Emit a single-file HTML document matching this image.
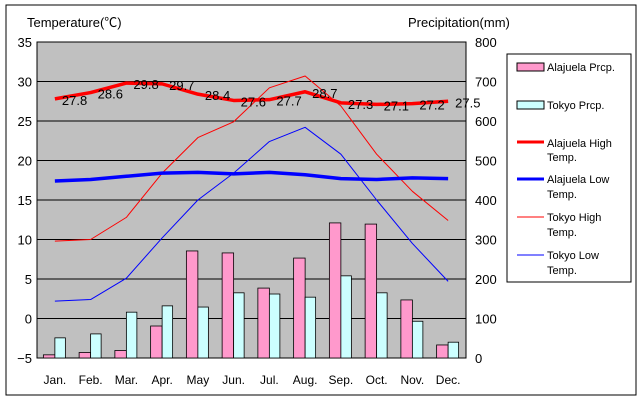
<!DOCTYPE html>
<html><head><meta charset="utf-8"><style>
body{margin:0;background:#fff;}
svg text{font-family:"Liberation Sans","Noto Sans CJK JP",sans-serif;}
</style></head><body>
<svg id="chart" width="640" height="400" xmlns="http://www.w3.org/2000/svg">
<rect x="6" y="5" width="630" height="390" fill="#fff" stroke="#000"/>
<rect x="37" y="42" width="429" height="316" fill="#c0c0c0" stroke="#000"/>
<g id="grid"></g><g id="bars"></g><g id="lines"></g><g id="labels"></g><g id="axes"></g>
<text x="27" y="27" font-size="13">Temperature(℃)</text>
<text x="408" y="27" font-size="13">Precipitation(mm)</text>
<g>
<rect x="507" y="54" width="124" height="228" fill="#fff" stroke="#000"/>
<rect x="517" y="63" width="27" height="8" fill="#ff99cc" stroke="#000"/>
<text x="547" y="71" font-size="11">Alajuela Prcp.</text>
<rect x="517" y="101" width="27" height="8" fill="#ccffff" stroke="#000"/>
<text x="547" y="109" font-size="11">Tokyo Prcp.</text>
<line x1="517" y1="142" x2="544" y2="142" stroke="#ff0000" stroke-width="3"/>
<text x="547" y="147" font-size="11"><tspan x="547">Alajuela High</tspan><tspan x="547" dy="14">Temp.</tspan></text>
<line x1="517" y1="179" x2="544" y2="179" stroke="#0000ff" stroke-width="3"/>
<text x="547" y="183" font-size="11"><tspan x="547">Alajuela Low</tspan><tspan x="547" dy="15">Temp.</tspan></text>
<line x1="517" y1="217" x2="544" y2="217" stroke="#ff0000" stroke-width="1"/>
<text x="547" y="221" font-size="11"><tspan x="547">Tokyo High</tspan><tspan x="547" dy="15">Temp.</tspan></text>
<line x1="517" y1="255" x2="544" y2="255" stroke="#0000ff" stroke-width="1"/>
<text x="547" y="259" font-size="11"><tspan x="547">Tokyo Low</tspan><tspan x="547" dy="15">Temp.</tspan></text>
</g>
</svg>
<script>
const months=["Jan.","Feb.","Mar.","Apr.","May","Jun.","Jul.","Aug.","Sep.","Oct.","Nov.","Dec."];
const alajuelaHigh=[27.8,28.6,29.8,29.7,28.4,27.6,27.7,28.7,27.3,27.1,27.2,27.5];
const alajuelaLow=[17.4,17.6,18.0,18.4,18.5,18.3,18.5,18.2,17.7,17.6,17.8,17.7];
const tokyoHigh=[9.8,10.0,12.8,18.4,22.9,24.9,29.2,30.7,26.9,20.8,16.1,12.4];
const tokyoLow=[2.2,2.4,5.1,10.2,15.0,18.4,22.4,24.2,20.8,15.0,9.5,4.7];
const alajuelaPrcp=[8,14,19,81,271,266,177,253,342,339,147,33];
const tokyoPrcp=[51,61,116,132,129,165,162,154,208,165,93,40];
const tempTicks=[-5,0,5,10,15,20,25,30,35];
const prcpTicks=[0,100,200,300,400,500,600,700,800];

const NS="http://www.w3.org/2000/svg";
const L=37,R=466,T=42,B=358,slot=(R-L)/12;
const xC=i=>L+slot*(i+0.5);
const yT=v=>B-(v+5)/40*(B-T);
const yP=v=>B-v/800*(B-T);
function mk(tag,attrs,parent){const e=document.createElementNS(NS,tag);for(const k in attrs)e.setAttribute(k,attrs[k]);document.getElementById(parent).appendChild(e);return e;}

tempTicks.forEach(t=>{
  if(t>-5&&t<35){const g=mk('line',{x1:L,x2:R,y1:yT(t),y2:yT(t),stroke:'#000'},'grid');
  
  }
  const tx=mk('text',{x:32,y:yT(t)+5,'font-size':13,'text-anchor':'end'},'axes');tx.textContent=t<0?'−'+(-t):t;
  
  
});
prcpTicks.forEach(t=>{
  const tx=mk('text',{x:475,y:yP(t)+5,'font-size':13},'axes');tx.textContent=t;
  
  
});
months.forEach((m,i)=>{
  const tx=mk('text',{x:xC(i),y:384,'font-size':12,'text-anchor':'middle'},'axes');tx.textContent=m;
  
  
  const b1=mk('rect',{x:xC(i)-11.5,y:yP(alajuelaPrcp[i]),width:11.5,height:B-yP(alajuelaPrcp[i]),fill:'#ff99cc',stroke:'#000','stroke-width':0.8},'bars');
  
  
  const b2=mk('rect',{x:xC(i),y:yP(tokyoPrcp[i]),width:10.5,height:B-yP(tokyoPrcp[i]),fill:'#ccffff',stroke:'#000','stroke-width':0.8},'bars');
  
  
});
function line(arr,color,w,name){
  const p=mk('polyline',{points:arr.map((v,i)=>xC(i)+','+yT(v)).join(' '),fill:'none',stroke:color,'stroke-width':w,'stroke-linejoin':'round'},'lines');
  
  
}
line(tokyoHigh,'#ff0000',1,'line-tokyo-high');
line(tokyoLow,'#0000ff',1,'line-tokyo-low');
line(alajuelaLow,'#0000ff',3.5,'line-alajuela-low');
line(alajuelaHigh,'#ff0000',3.5,'line-alajuela-high');
alajuelaHigh.forEach((v,i)=>{
  const tx=mk('text',{x:xC(i)+7,y:yT(v)+6,'font-size':13},'labels');tx.textContent=v.toFixed(1);
  
  
});
</script>
</body></html>
